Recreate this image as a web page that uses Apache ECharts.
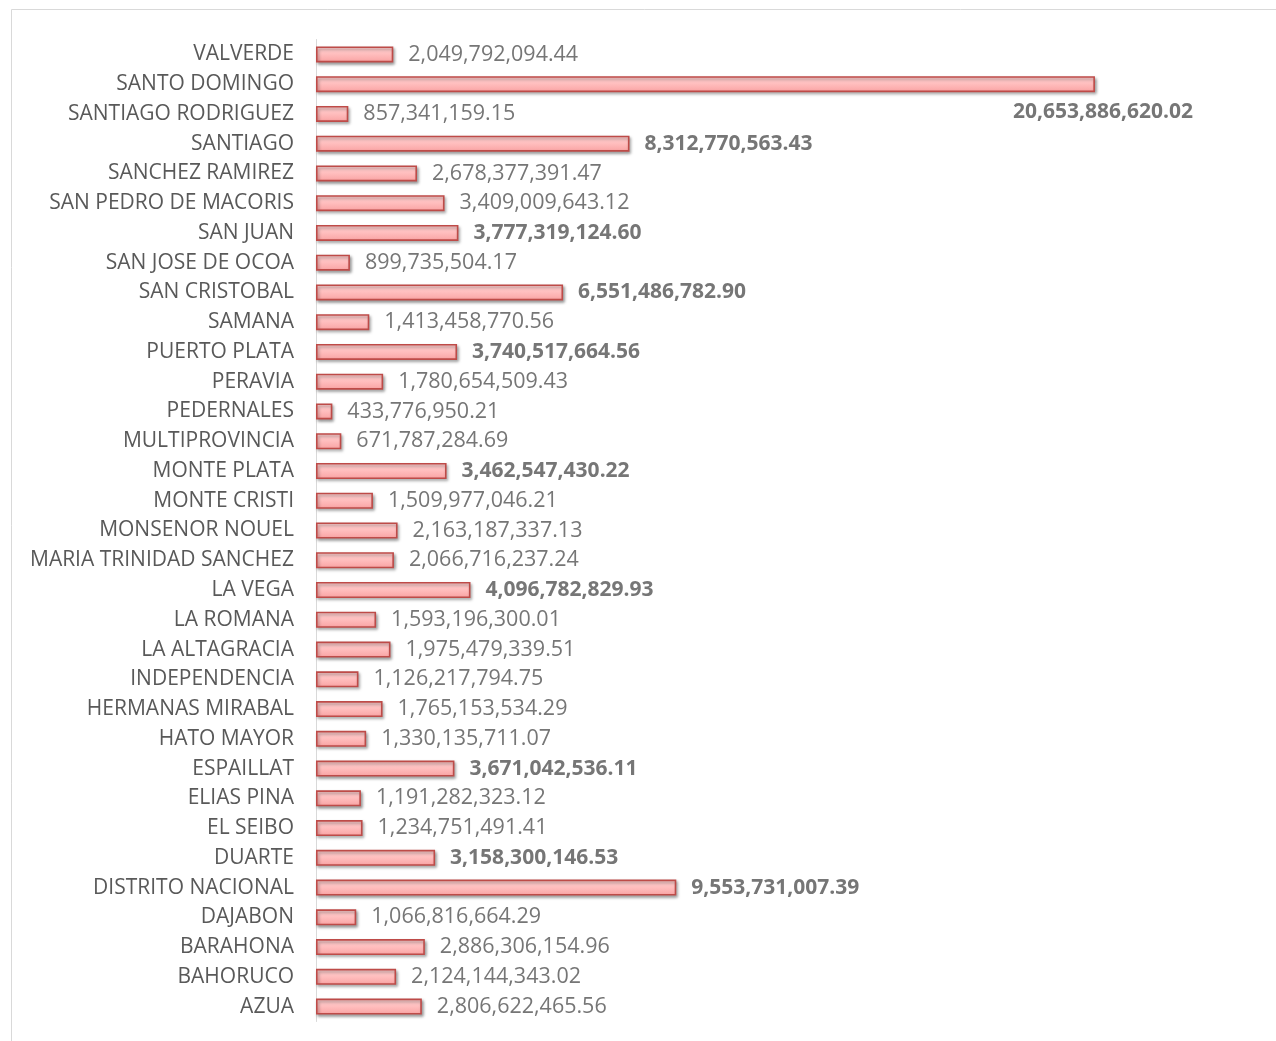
<!DOCTYPE html>
<html>
<head>
<meta charset="utf-8">
<script src="https://cdn.jsdelivr.net/npm/echarts@6/dist/echarts.min.js"></script>
<style>
  html, body { margin: 0; padding: 0; background: #fff; }
  #chart { width: 1276px; height: 1041px; }
</style>
</head>
<body>
<div id="chart"></div>
<script>
// provincias, de arriba hacia abajo
const provincias = [
  'VALVERDE', 'SANTO DOMINGO', 'SANTIAGO RODRIGUEZ', 'SANTIAGO', 'SANCHEZ RAMIREZ',
  'SAN PEDRO DE MACORIS', 'SAN JUAN', 'SAN JOSE DE OCOA', 'SAN CRISTOBAL', 'SAMANA',
  'PUERTO PLATA', 'PERAVIA', 'PEDERNALES', 'MULTIPROVINCIA', 'MONTE PLATA',
  'MONTE CRISTI', 'MONSENOR NOUEL', 'MARIA TRINIDAD SANCHEZ', 'LA VEGA', 'LA ROMANA',
  'LA ALTAGRACIA', 'INDEPENDENCIA', 'HERMANAS MIRABAL', 'HATO MAYOR', 'ESPAILLAT',
  'ELIAS PINA', 'EL SEIBO', 'DUARTE', 'DISTRITO NACIONAL', 'DAJABON',
  'BARAHONA', 'BAHORUCO', 'AZUA'
]
const montos = [
  2049792094.44, 20653886620.02, 857341159.15, 8312770563.43, 2678377391.47,
  3409009643.12, 3777319124.60, 899735504.17, 6551486782.90, 1413458770.56,
  3740517664.56, 1780654509.43, 433776950.21, 671787284.69, 3462547430.22,
  1509977046.21, 2163187337.13, 2066716237.24, 4096782829.93, 1593196300.01,
  1975479339.51, 1126217794.75, 1765153534.29, 1330135711.07, 3671042536.11,
  1191282323.12, 1234751491.41, 3158300146.53, 9553731007.39, 1066816664.29,
  2886306154.96, 2124144343.02, 2806622465.56
]
// etiquetas resaltadas en negrita
const destacadas = [
  'SANTO DOMINGO', 'SANTIAGO', 'SAN JUAN', 'SAN CRISTOBAL', 'PUERTO PLATA',
  'MONTE PLATA', 'LA VEGA', 'ESPAILLAT', 'DUARTE', 'DISTRITO NACIONAL'
]

const fmt = (v) => v.toLocaleString('en-US', { minimumFractionDigits: 2, maximumFractionDigits: 2 })
const fuente = '"Open Sans", "Noto Sans", sans-serif'

let chart = echarts.init(document.getElementById('chart'))

let option = {
  backgroundColor: '#fff',
  animation: false,
  graphic: [
    {
      type: 'rect',
      shape: { x: 11.5, y: 9.5, width: 1300, height: 1100 },
      style: { fill: 'none', stroke: '#d9d9d9', lineWidth: 1 },
      silent: true,
    },
  ],
  grid: {
    left: 316,
    top: 39.5,
    width: 792,
    height: 982,
  },
  xAxis: {
    type: 'value',
    min: 0,
    max: 21000000000,
    show: false,
  },
  yAxis: {
    type: 'category',
    inverse: true,
    data: provincias,
    axisLine: {
      show: true,
      lineStyle: { color: '#d9d9d9', width: 1 },
    },
    axisTick: { show: false },
    axisLabel: {
      color: '#595959',
      fontSize: 21,
      fontFamily: fuente,
      margin: 22,
    },
  },
  series: [
    {
      type: 'bar',
      barWidth: 16,
      itemStyle: {
        color: new echarts.graphic.LinearGradient(0, 0, 0, 1, [
          { offset: 0, color: '#ffd3d3' },
          { offset: 0.5, color: '#ffbdbd' },
          { offset: 1, color: '#f9a2a2' },
        ]),
        borderColor: '#be4b48',
        borderWidth: 1.6,
        shadowColor: 'rgba(0,0,0,0.35)',
        shadowBlur: 3,
        shadowOffsetX: 1.5,
        shadowOffsetY: 2,
      },
      label: {
        show: true,
        position: 'right',
        distance: 15,
        color: '#767676',
        fontSize: 21.5,
        fontFamily: fuente,
        formatter: (p) => fmt(p.value),
      },
      data: montos.map((v, i) => {
        let item = { value: v }
        if (destacadas.includes(provincias[i])) {
          item.label = { fontWeight: 'bold', fontSize: 21 }
        }
        if (provincias[i] === 'SANTO DOMINGO') {
          item.label = { fontWeight: 'bold', fontSize: 21, distance: 5, offset: [-87, 28] }
        }
        return item
      }),
    },
  ],
}

chart.setOption(option)
</script>
</body>
</html>
